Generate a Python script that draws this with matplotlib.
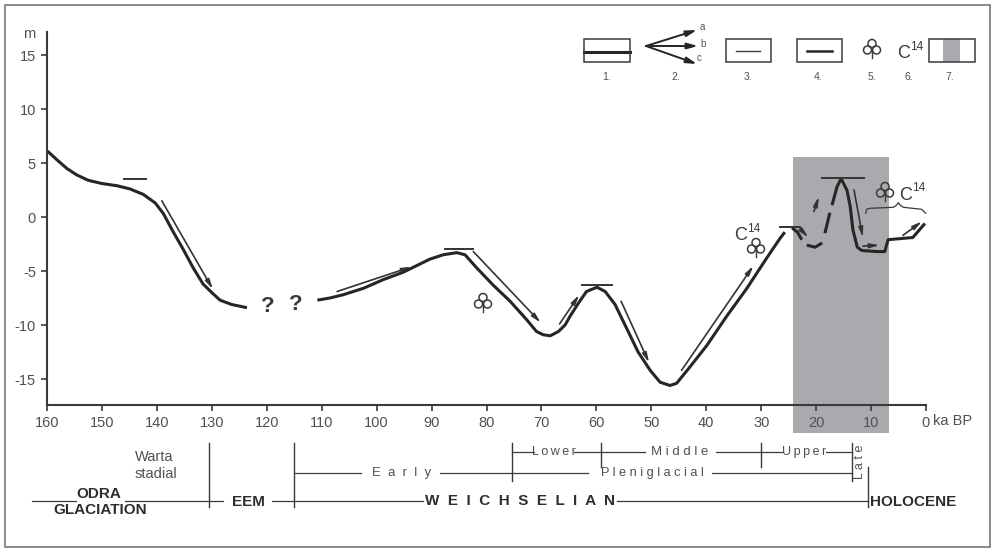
import matplotlib
matplotlib.use("Agg")
import matplotlib.pyplot as plt
from matplotlib.patches import Circle, Rectangle

plt.rcParams["font.family"] = ["Liberation Sans", "DejaVu Sans"]
plt.rcParams["axes.unicode_minus"] = False

W, H = 994, 549
INK = "#3a3a3a"
TXT = "#505050"
GREY = "#a9aaad"

# age in ka BP, level in m
seg1_age = [159.9, 158.2, 156.4, 154.6, 152.5, 150, 147.3, 144.9, 142.5, 140.3, 138.8, 137, 135.2, 133.4, 131.6, 130,
            128.5, 126.4, 123.6]
seg1_lvl = [6.1, 5.3, 4.5, 3.9, 3.4, 3.1, 2.9, 2.6, 2.1, 1.3, 0.3, -1.4, -3.0, -4.7, -6.2, -7.0, -7.7, -8.1, -8.4]

seg2_age = [110.8, 108.5, 106.1, 102.4, 98.8, 95.1, 92.7, 90.3, 87.9, 85.4, 83.9, 81.8, 78.8, 75.7, 72.7, 70.9, 69.7,
            68.4, 66.9, 65.7, 64.8, 63.3, 61.8, 59.9, 58.4, 56.6, 54.5, 52.4, 50.2, 48.4, 46.6, 45.4, 43, 39.9, 36.3,
            32.6, 29, 26.6, 25.7]
seg2_lvl = [-7.7, -7.5, -7.2, -6.6, -5.8, -5.1, -4.5, -3.9, -3.5, -3.3, -3.5, -4.7, -6.3, -7.8, -9.5, -10.6, -10.9,
            -11.0, -10.6, -10.0, -9.2, -8.0, -6.9, -6.5, -6.9, -8.1, -10.3, -12.5, -14.2, -15.3, -15.6, -15.4, -13.9,
            -11.9, -9.2, -6.6, -3.8, -2.0, -1.4]

seg3_age = [24.4, 23.4, 22.6]
seg3_lvl = [-1, -1.4, -2.1]
seg4_age = [21.7, 20.2, 18.9]
seg4_lvl = [-2.6, -2.8, -2.4]
seg5_age = [18.4, 17.5]
seg5_lvl = [-1.5, 0.4]
seg6_age = [17.1, 16.2, 15.6, 15.3, 14.4, 13.8, 13.3, 12.5, 11.7, 9, 7.5, 6.9, 2.4, 0.2]
seg6_lvl = [1.1, 2.8, 3.4, 3.4, 2.5, 1.0, -1.2, -2.8, -3.1, -3.2, -3.2, -2.1, -1.9, -0.6]
segments = [(seg1_age, seg1_lvl), (seg2_age, seg2_lvl), (seg3_age, seg3_lvl),
            (seg4_age, seg4_lvl), (seg5_age, seg5_lvl), (seg6_age, seg6_lvl)]

# short bars at highstands: start, end, level
high_bars = [(146, 142, 3.5), (87.6, 82.5, -3), (62.7, 57.2, -6.3), (26.6, 23, -0.9), (18.9, 11.3, 3.6)]

# trend arrows: age0, lvl0, age1, lvl1
arrows = [(139.1, 1.5, 129.8, -6.7), (107.2, -6.9, 93.6, -4.6), (82.4, -3.2, 70.1, -9.8), (66.7, -9.9, 63.1, -7.2),
          (55.5, -7.8, 50.4, -13.5), (44.5, -14.2, 31.4, -4.5), (20.4, 0.5, 19.5, 1.9), (13.1, 2.5, 11.5, -1.9),
          (11.5, -2.7, 8.4, -2.6), (4.2, -1.7, 0.7, -0.4), (22.9, -1.1, 21.4, -1.9)]

x_ticks = list(range(160, -1, -10))
y_ticks = [15, 10, 5, 0, -5, -10, -15]
shade_age = (24.3, 6.8)

fig = plt.figure(figsize=(W / 100, H / 100), dpi=100)

# overlay in pixels for frame, legend and stratigraphy
ov = fig.add_axes([0, 0, 1, 1])
ov.set_xlim(0, W)
ov.set_ylim(H, 0)
ov.axis("off")

x0, x1, y_top, y_bot = 47, 926, 32, 405
ax = fig.add_axes([x0 / W, 1 - y_bot / H, (x1 - x0) / W, (y_bot - y_top) / H])
ax.patch.set_alpha(0)
ax.set_xlim(160, 0)
ax.set_ylim((217 - y_bot) / 10.8, (217 - y_top) / 10.8)


def kx(age):
    return x0 + (160 - age) * (x1 - x0) / 160


# shaded block runs down past the axis
ov.add_patch(Rectangle((kx(shade_age[0]), 157), kx(shade_age[1]) - kx(shade_age[0]), 276, fc=GREY, ec="none"))
ov.add_patch(Rectangle((5, 5), 985, 542, fc="none", ec="#777777", lw=1.2))

for a, l in segments:
    ax.plot(a, l, color="#262626", lw=2.2, solid_capstyle="butt", solid_joinstyle="round")
for a0, a1, l in high_bars:
    ax.plot([a0, a1], [l, l], color="#333333", lw=1.4)
for a0, l0, a1, l1 in arrows:
    ax.annotate("", xy=(a1, l1), xytext=(a0, l0),
                arrowprops=dict(arrowstyle="-|>,head_length=0.7,head_width=0.16", color="#333333", lw=1.2,
                                mutation_scale=8, shrinkA=0, shrinkB=0))

for s in ["top", "right"]:
    ax.spines[s].set_visible(False)
for s in ["left", "bottom"]:
    ax.spines[s].set_color(INK)
    ax.spines[s].set_linewidth(1.5)
ax.set_xticks(x_ticks)
ax.set_yticks(y_ticks)
ax.set_xticklabels([str(t) for t in x_ticks])
ax.tick_params(labelcolor=TXT, labelsize=10.5, length=4, width=1.2, color=INK, pad=4)
ov.text(29, 34, "m", fontsize=10.5, color=TXT, ha="center", va="center")
ov.text(953, 421, "ka BP", fontsize=10.5, color=TXT, ha="center", va="center")

# question marks
ov.text(268, 307, "?", fontsize=16, fontweight="bold", color=INK, ha="center", va="center")
ov.text(296, 305, "?", fontsize=16, fontweight="bold", color=INK, ha="center", va="center")


def clover(x, y):
    for dx, dy in [(0, -5.5), (-4.5, 1), (4.5, 1)]:
        ov.add_patch(Circle((x + dx, y + dy), 4, fc="none", ec=INK, lw=1.1))
    ov.plot([x, x], [y, y + 9], color=INK, lw=1.0)


def c14(x, y):
    ov.text(x, y, "C", fontsize=13, color=INK, ha="center", va="center")
    ov.text(x + 13, y - 7, "14", fontsize=8.5, color=INK, ha="center", va="center")


clover(483, 303)
clover(756, 248)
clover(885, 192)
c14(741, 236)
c14(906, 195)
# brace over the last points
ov.plot([865.7, 866.7, 870, 893.3, 896.7, 898.3, 900, 903.3, 921.7, 925.7],
        [213.3, 209.3, 208.3, 207.3, 205, 202.7, 205, 207.3, 209.3, 213.3], color=INK, lw=0.9)

# legend
box_y, box_h = 39, 23
for bx, bw in [(584, 46), (726, 45), (797, 45), (929, 46)]:
    ov.add_patch(Rectangle((bx, box_y), bw, box_h, fc="none", ec=INK, lw=1.1, zorder=3))
ov.add_patch(Rectangle((943, box_y), 17, box_h, fc=GREY, ec="none"))
ov.plot([584, 630], [52, 52], color="#262626", lw=2.2)
ov.plot([736, 760], [51, 51], color=INK, lw=1.0)
ov.plot([807, 832], [51, 51], color="#262626", lw=1.8)
for ex, ey, lab, lx, ly in [(697, 30, "a", 702, 27), (698, 46, "b", 703, 44), (697, 64, "c", 699, 58)]:
    ov.annotate("", xy=(ex, ey), xytext=(646, 46),
                arrowprops=dict(arrowstyle="-|>,head_length=0.8,head_width=0.22", color="#262626", lw=1.4,
                                mutation_scale=8, shrinkA=0, shrinkB=0))
    ov.text(lx, ly, lab, fontsize=7, color=TXT, ha="center", va="center")
clover(872, 49)
c14(904, 54)
for lab, lx in [("1.", 607), ("2.", 676), ("3.", 748), ("4.", 818), ("5.", 872), ("6.", 909), ("7.", 950)]:
    ov.text(lx, 77, lab, fontsize=7.5, color=TXT, ha="center", va="center")

# stratigraphy table
rules = [(32, 76, 501), (125, 223, 501), (272, 423, 501), (617, 868, 501),
         (kx(115), 361, 473), (440, 588, 473), (712, kx(13.5), 473),
         (kx(75.4), 534, 452), (574, 645, 452), (716, 782, 452), (826, kx(13.5), 452)]
for xa, xb, y in rules:
    ov.plot([xa, xb], [y, y], color=INK, lw=0.9)
stops = [(130.5, 443, 507), (115, 443, 507), (75.4, 443, 481), (59.2, 443, 467), (30, 443, 467),
         (13.5, 443, 481), (10.5, 467, 507)]
for age, ya, yb in stops:
    ov.plot([kx(age), kx(age)], [ya, yb], color=INK, lw=1.0)

ov.text(135, 457, "Warta", fontsize=10.5, color=TXT, ha="left", va="center")
ov.text(135, 474, "stadial", fontsize=10.5, color=TXT, ha="left", va="center")
for lab, lx, ly in [("ODRA", 99, 494), ("GLACIATION", 100, 510), ("EEM", 248, 502),
                    ("W  E  I  C  H  S  E  L  I  A  N", 520, 501), ("HOLOCENE", 913, 502)]:
    ov.text(lx, ly, lab, fontsize=11, fontweight="bold", color="#2e2e2e", ha="center", va="center")
for lab, lx, ly, fs in [("E  a  r  l  y", 402, 473, 9.5), ("P l e n i g l a c i a l", 652, 473, 9.2),
                        ("L\u2009o\u2009w\u2009e\u2009r", 554, 452, 9), ("M i d d l e", 680, 452, 9.5),
                        ("U\u2009p\u2009p\u2009e\u2009r", 804, 452, 9)]:
    ov.text(lx, ly, lab, fontsize=fs, color=TXT, ha="center", va="center")
ov.text(860, 462, "L a t e", fontsize=9, color=TXT, rotation=90, ha="center", va="center")

fig.savefig("out.png", dpi=100)
